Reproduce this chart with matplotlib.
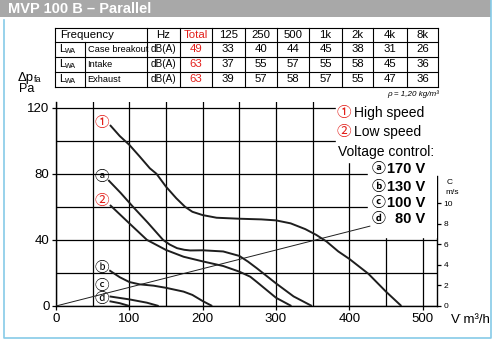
import numpy as np
import matplotlib.pyplot as plt
from matplotlib.patches import Rectangle

# Sound table
freq_labels = ['125', '250', '500', '1k', '2k', '4k', '8k']
row_names = ['Case breakout', 'Intake', 'Exhaust']
totals = [49, 63, 63]
case_breakout = [33, 40, 44, 45, 38, 31, 26]
intake = [37, 55, 57, 55, 58, 45, 36]
exhaust = [39, 57, 58, 57, 55, 47, 36]
table_rows = [case_breakout, intake, exhaust]

# Fan curves (flow m3/h, pressure Pa)
high_x = [73.6, 87, 100, 114, 128, 137, 150, 164, 176, 186, 200, 219, 250, 280, 300, 320, 340, 355, 369, 385, 400, 426, 450, 471]
high_y = [109.5, 102.8, 97.5, 90.5, 83.3, 80, 72.2, 65.2, 60, 57, 55, 53.4, 52.8, 52.4, 51.8, 50, 46.5, 43, 39, 33, 28.5, 19.5, 8.7, 0]

a_x = [71.3, 88, 104, 125, 146, 155, 165, 175, 183, 200, 228, 250, 262, 274, 300, 324, 349]
a_y = [76.2, 68.5, 60.5, 50.5, 40, 37.2, 35, 34, 33.6, 33.7, 33, 30.3, 26.8, 22.8, 13.7, 5.8, 0]

low_x = [73.6, 100, 124, 150, 174, 200, 228, 250, 265, 274, 300, 321]
low_y = [61.1, 50, 40, 33.9, 29.8, 27, 24.2, 20.8, 17.7, 14.5, 5, 0]

b_x = [72.7, 87, 100, 114, 133, 150, 174, 186, 200, 213]
b_y = [21.6, 17.4, 14.5, 13.1, 12.3, 11, 8.7, 6.7, 3, 0]

c_x = [73, 100, 124, 140]
c_y = [5.8, 4.0, 2.0, 0]

d_x = [73, 87, 100]
d_y = [2.9, 1.7, 0]

sys_x = [0, 428]
sys_y = [0, 48.3]

curve_marks = ['\u2460', '\u24d0', '\u2461', '\u24d1', '\u24d2', '\u24d3']
mark_y = [111, 77.8, 63.5, 22.8, 12.1, 4.0]
mark_col = ['#e3201b', 'black', '#e3201b', 'black', 'black', 'black']

W, H = 496, 340
PA_PER_MS = 6.21
circ_font = ['Noto Sans CJK JP', 'DejaVu Sans']
txt_font = ['Liberation Sans', 'DejaVu Sans']

plt.rcParams['font.family'] = txt_font

fig = plt.figure(figsize=(W / 100, H / 100), dpi=100)

# main chart, placed in pixels
l, r, t, b = 56, 437.3, 101.7, 306
ax = fig.add_axes([l / W, (H - b) / H, (r - l) / W, (b - t) / H])
ax.set_facecolor('none')
ax.set_xlim(0, 520)
ax.set_ylim(0, 123.6)
ax.set_xticks(range(0, 501, 100))
ax.set_xticks(range(50, 451, 100), minor=True)
ax.set_yticks([0, 40, 80, 120])
ax.set_yticks([20, 60, 100], minor=True)
ax.set_axisbelow(True)
ax.grid(True, which='both', color='black', lw=0.9)
ax.tick_params(which='major', direction='out', length=3.2, width=0.9, labelsize=9.5, pad=1.5)
ax.tick_params(which='minor', length=0)
for s in ['top', 'right']:
    ax.spines[s].set_visible(False)
for s in ['left', 'bottom']:
    ax.spines[s].set_linewidth(1.0)

# white area behind the legend
ax.add_patch(Rectangle((382, 87.3), 150, 40, color='white', zorder=1))
ax.add_patch(Rectangle((426, 42), 110, 50, color='white', zorder=1))

for xs, ys in [(high_x, high_y), (a_x, a_y), (low_x, low_y), (b_x, b_y), (c_x, c_y), (d_x, d_y)]:
    ax.plot(xs, ys, color='#1e1e1e', lw=1.4, solid_capstyle='butt', zorder=3)
ax.plot(sys_x, sys_y, color='#1e1e1e', lw=0.7, zorder=3)

for m, y, c in zip(curve_marks, mark_y, mark_col):
    ax.text(62, y, m, color=c, fontsize=10.5, family=circ_font, ha='center', va='center', zorder=4)

# velocity axis on the right
sec = ax.secondary_yaxis('right', functions=(lambda y: y / PA_PER_MS, lambda v: v * PA_PER_MS))
sec.set_yticks(range(0, 11, 2))
sec.spines['right'].set_bounds(0, 12.7)
sec.spines['right'].set_linewidth(1.0)
sec.tick_params(direction='out', length=3, width=0.9, labelsize=6, pad=1.5)

# overlay in pixel coordinates
ov = fig.add_axes([0, 0, 1, 1], zorder=5)
ov.set_xlim(0, W)
ov.set_ylim(H, 0)
ov.axis('off')
ov.set_facecolor('none')

# header band and frame
ov.add_patch(Rectangle((0, 0), 491, 17, color='#a8a8a8', lw=0))
ov.text(8, 9, 'MVP 100 B \u2013 Parallel', color='white', fontsize=10.5, weight='bold', va='center')
frame_c = '#86cbe8'
ov.plot([3.5, 3.5, 491, 491], [20, 338, 338, 0], color=frame_c, lw=1.2)

# table
row_y = [28.3, 41.7, 56.7, 71.7, 86.7]
col_x = [55, 146.7, 180, 211.7, 245, 276.7, 309.3, 341.7, 373.3, 406.7, 438.3]
for y in row_y:
    ov.plot([col_x[0], col_x[-1]], [y, y], color='black', lw=0.8)
for x in col_x:
    ov.plot([x, x], [row_y[0], row_y[-1]], color='black', lw=0.8)
ov.plot([85, 85], [row_y[1], row_y[-1]], color='black', lw=0.8)

ts = 8.2
hy = (row_y[0] + row_y[1]) / 2
centers = [(col_x[i] + col_x[i + 1]) / 2 for i in range(1, len(col_x) - 1)]
ov.text(60, hy, 'Frequency', fontsize=ts, va='center')
ov.text(centers[0], hy, 'Hz', fontsize=ts, ha='center', va='center')
ov.text(centers[1], hy, 'Total', fontsize=ts, ha='center', va='center', color='#e3201b')
for i, f in enumerate(freq_labels):
    ov.text(centers[i + 2], hy, f, fontsize=ts, ha='center', va='center')
for k, name in enumerate(row_names):
    y = (row_y[k + 1] + row_y[k + 2]) / 2
    ov.text(59, y, 'L', fontsize=ts, va='center')
    ov.text(64.5, y + 2.5, 'WA', fontsize=5, va='center')
    ov.text(87.5, y, name, fontsize=6.7, va='center')
    ov.text(centers[0], y, 'dB(A)', fontsize=7.2, ha='center', va='center')
    ov.text(centers[1], y, str(totals[k]), fontsize=ts, ha='center', va='center', color='#e3201b')
    for i, v in enumerate(table_rows[k]):
        ov.text(centers[i + 2], y, str(v), fontsize=ts, ha='center', va='center')

# axis labels
ov.text(18, 78, '\u0394p', fontsize=9.5, va='center')
ov.text(33.5, 80, 'fa', fontsize=6.5, va='center')
ov.text(19.5, 89, 'Pa', fontsize=9, va='center')
ov.text(451, 320, 'V\u0307 m\u00b3/h', fontsize=9.5, va='center')
ov.text(446.5, 182.5, 'C', fontsize=6, va='center')
ov.text(445, 192, 'm/s', fontsize=6, va='center')
ov.text(438.5, 94, '\u03c1 = 1,20 kg/m\u00b3', fontsize=5.8, ha='right', va='center', style='italic')

# legend
ov.text(344, 113.5, '\u2460', fontsize=10.5, family=circ_font, color='#e3201b', ha='center', va='center')
ov.text(354, 113.5, 'High speed', fontsize=10, va='center')
ov.text(344, 131.7, '\u2461', fontsize=10.5, family=circ_font, color='#e3201b', ha='center', va='center')
ov.text(354, 131.7, 'Low speed', fontsize=10, va='center')
ov.text(337.5, 151.7, 'Voltage control:', fontsize=10, va='center')
volt_marks = ['\u24d0', '\u24d1', '\u24d2', '\u24d3']
volt_labels = ['170 V', '130 V', '100 V', '80 V']
volt_y = [169, 186.7, 203.3, 219.3]
for m, v, y in zip(volt_marks, volt_labels, volt_y):
    ov.text(378.5, y, m, fontsize=10, family=circ_font, ha='center', va='center', weight='bold')
    ov.text(425, y, v, fontsize=10.5, weight='bold', ha='right', va='center')

fig.savefig('out.png', dpi=100)
